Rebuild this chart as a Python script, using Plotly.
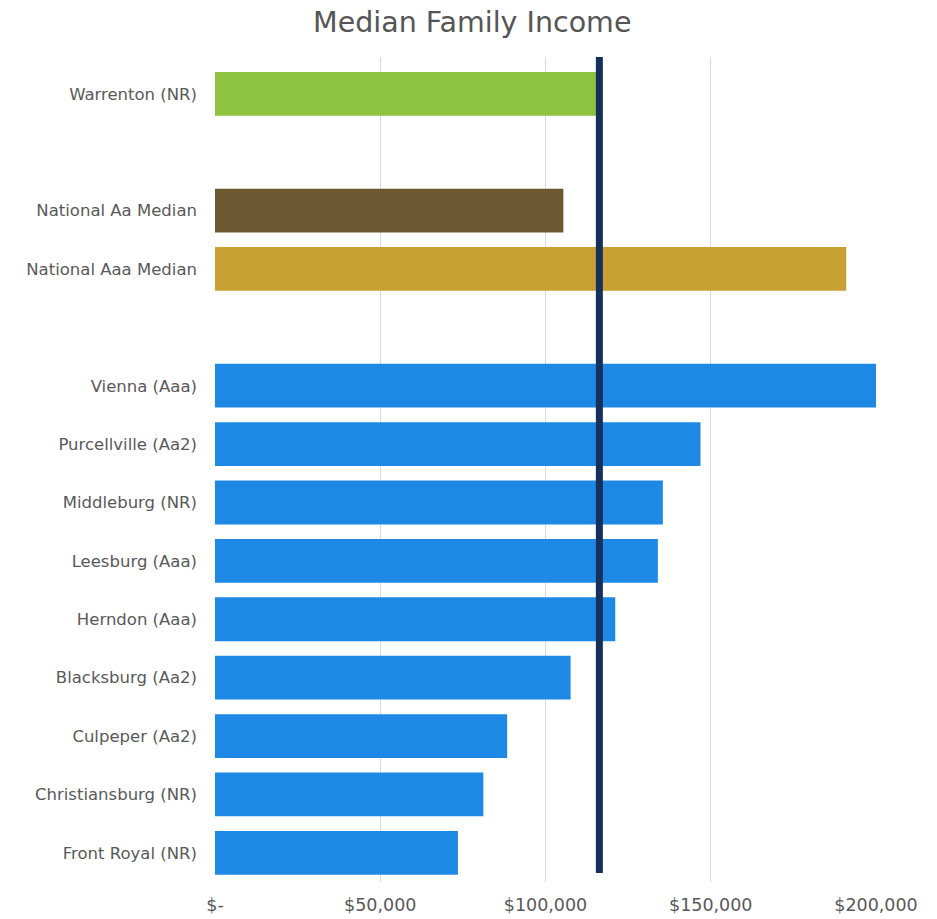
import plotly.graph_objects as go

# Median family income by locality (USD); blank entries are spacer rows
categories = [
    "Warrenton (NR)",
    " ",
    "National Aa Median",
    "National Aaa Median",
    "  ",
    "Vienna (Aaa)",
    "Purcellville (Aa2)",
    "Middleburg (NR)",
    "Leesburg (Aaa)",
    "Herndon (Aaa)",
    "Blacksburg (Aa2)",
    "Culpeper (Aa2)",
    "Christiansburg (NR)",
    "Front Royal (NR)",
]
income = [
    116300,
    None,
    105400,
    191000,
    None,
    200300,
    146900,
    135500,
    134000,
    121100,
    107600,
    88400,
    81200,
    73500,
]
groups = [
    "warrenton", None, "aa", "aaa", None,
    "town", "town", "town", "town", "town", "town", "town", "town", "town",
]

# Reference line at Warrenton's median family income
reference_income = 116300

tick_values = [0, 50000, 100000, 150000, 200000]
tick_labels = ["$-", "$50,000", "$100,000", "$150,000", "$200,000"]

group_colors = {
    "warrenton": "#8DC33F",
    "aa": "#6E5832",
    "aaa": "#C8A034",
    "town": "#1E88E5",
    None: "rgba(0,0,0,0)",
}
bar_colors = [group_colors[g] for g in groups]

FONT = "DejaVu Sans, Verdana, sans-serif"
TEXT_GRAY = "#595959"

fig = go.Figure(
    go.Bar(
        x=income,
        y=categories,
        orientation="h",
        marker=dict(color=bar_colors, line=dict(width=0)),
        hoverinfo="x+y",
    )
)

fig.add_shape(
    type="line",
    xref="x",
    yref="paper",
    x0=reference_income,
    x1=reference_income,
    y0=0.011,
    y1=1.0,
    line=dict(color="#14315B", width=7),
    layer="above",
)

fig.update_layout(
    width=937,
    height=919,
    margin=dict(l=215, r=61, t=57, b=37),
    paper_bgcolor="white",
    plot_bgcolor="white",
    bargap=0.25,
    showlegend=False,
    title=dict(
        text="Median Family Income",
        xref="container",
        x=0.504,
        xanchor="center",
        yref="container",
        y=0.976,
        yanchor="middle",
        font=dict(family=FONT, size=28.5, color="#555555"),
    ),
    xaxis=dict(
        range=[0, 200000],
        tickvals=tick_values,
        ticktext=tick_labels,
        showgrid=True,
        gridcolor="#DADADA",
        gridwidth=1,
        zeroline=False,
        showline=False,
        ticks="",
        ticklabelstandoff=10,
        automargin=False,
        tickfont=dict(family=FONT, size=17.5, color=TEXT_GRAY),
        fixedrange=True,
    ),
    yaxis=dict(
        type="category",
        categoryorder="array",
        categoryarray=categories,
        range=[13.5, -0.63],
        showgrid=False,
        zeroline=False,
        showline=False,
        ticks="",
        ticklabelstandoff=17,
        automargin=False,
        tickfont=dict(family=FONT, size=16.5, color=TEXT_GRAY),
        fixedrange=True,
    ),
)

fig.write_html("out.html")
